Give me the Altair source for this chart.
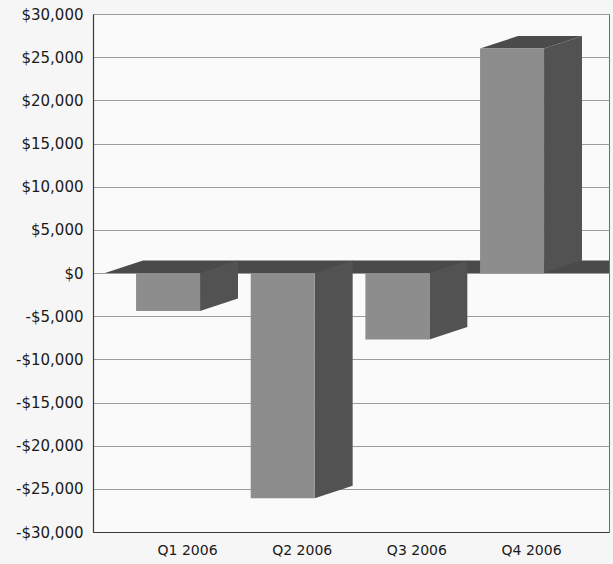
import altair as alt
import pandas as pd

# Quarterly net result, in dollars
quarters = ["Q1 2006", "Q2 2006", "Q3 2006", "Q4 2006"]
net_result = [-4400, -26100, -7700, 26000]

# Value axis ticks
y_ticks = list(range(-30000, 30001, 5000))

# Pseudo-3D geometry (category units on x, dollars on y)
HALF = 0.279      # half width of a bar's front face
DX = 0.331        # depth offset to the right
DY = 1450         # depth offset upward
X_MIN, X_MAX = -0.82, 3.68
FLOOR_LEFT = -0.715

FRONT = "#8d8d8d"
SIDE = "#525252"
TOP = "#4b4b4b"
FLOOR = "#4a4a4a"

centers = list(range(len(quarters)))

# Front faces
front = pd.DataFrame({
    "quarter": quarters,
    "x": [c - DX / 2 - HALF for c in centers],
    "x2": [c - DX / 2 + HALF for c in centers],
    "y": [0] * len(quarters),
    "y2": net_result,
})

# Right-hand side faces: vertical edges, slanted top/bottom
side_rows = []
for q, c, v in zip(quarters, centers, net_result):
    lo, hi = min(0, v), max(0, v)
    right = c - DX / 2 + HALF
    side_rows.append({"quarter": q, "x": right, "lo": lo, "hi": hi})
    side_rows.append({"quarter": q, "x": right + DX, "lo": lo + DY, "hi": hi + DY})
side = pd.DataFrame(side_rows)

# Top faces of the bars that rise above zero
top_rows = []
for q, c, v in zip(quarters, centers, net_result):
    if v > 0:
        left = c - DX / 2 - HALF
        top_rows.append({"quarter": q, "y": v, "x": left, "x2": left + 2 * HALF})
        top_rows.append({"quarter": q, "y": v + DY, "x": left + DX, "x2": left + DX + 2 * HALF})
top = pd.DataFrame(top_rows)

# The zero plane
floor = pd.DataFrame([
    {"y": 0, "x": FLOOR_LEFT, "x2": X_MAX},
    {"y": DY, "x": FLOOR_LEFT + DX, "x2": X_MAX},
])

x_scale = alt.Scale(domain=[X_MIN, X_MAX], nice=False, zero=False)
y_scale = alt.Scale(domain=[-30000, 30000], nice=False)

label_list = "[" + ",".join("'" + q + "'" for q in quarters) + "]"

x_axis = alt.Axis(
    values=centers,
    labelExpr=label_list + "[round(datum.value)]",
    title=None, grid=False, ticks=False,
    domainColor="#3a3a3a", domainWidth=1.2,
    labelFont="DejaVu Sans", labelFontSize=14, labelColor="#1a1a1a",
    labelPadding=11,
)
y_axis = alt.Axis(
    values=y_ticks,
    labelExpr="datum.value < 0 ? '-$' + format(-datum.value, ',') : '$' + format(datum.value, ',')",
    title=None, ticks=False,
    grid=True, gridColor="#9c9c9c", gridWidth=1,
    domainColor="#3a3a3a", domainWidth=1.2,
    labelFont="DejaVu Sans", labelFontSize=15, labelColor="#1a1a1a",
    labelPadding=10,
)

# Invisible base layer carrying the axes
base = alt.Chart(front).mark_rect(opacity=0).encode(
    x=alt.X("x:Q", scale=x_scale, axis=x_axis),
    x2="x2",
    y=alt.Y("y:Q", scale=y_scale, axis=y_axis),
    y2="y2",
)

floor_layer = alt.Chart(floor).mark_area(orient="horizontal", color=FLOOR).encode(
    y=alt.Y("y:Q", scale=y_scale),
    x=alt.X("x:Q", scale=x_scale),
    x2="x2",
)

side_layer = alt.Chart(side).mark_area(color=SIDE).encode(
    x=alt.X("x:Q", scale=x_scale),
    y=alt.Y("lo:Q", scale=y_scale),
    y2="hi",
    detail="quarter:N",
)

top_layer = alt.Chart(top).mark_area(orient="horizontal", color=TOP).encode(
    y=alt.Y("y:Q", scale=y_scale),
    x=alt.X("x:Q", scale=x_scale),
    x2="x2",
    detail="quarter:N",
)

front_layer = alt.Chart(front).mark_rect(color=FRONT).encode(
    x=alt.X("x:Q", scale=x_scale),
    x2="x2",
    y=alt.Y("y:Q", scale=y_scale),
    y2="y2",
)

chart = alt.layer(base, floor_layer, side_layer, top_layer, front_layer).properties(
    width=516,
    height=518,
    background="#f6f6f6",
    padding={"left": 93, "top": 14, "right": 4, "bottom": 32},
    autosize=alt.AutoSizeParams(type="none"),
).configure_view(
    stroke="#6a6a6a", strokeWidth=1, fill="#fafafa"
)

chart.save("out.html", embed_options={"renderer": "svg", "actions": False})
